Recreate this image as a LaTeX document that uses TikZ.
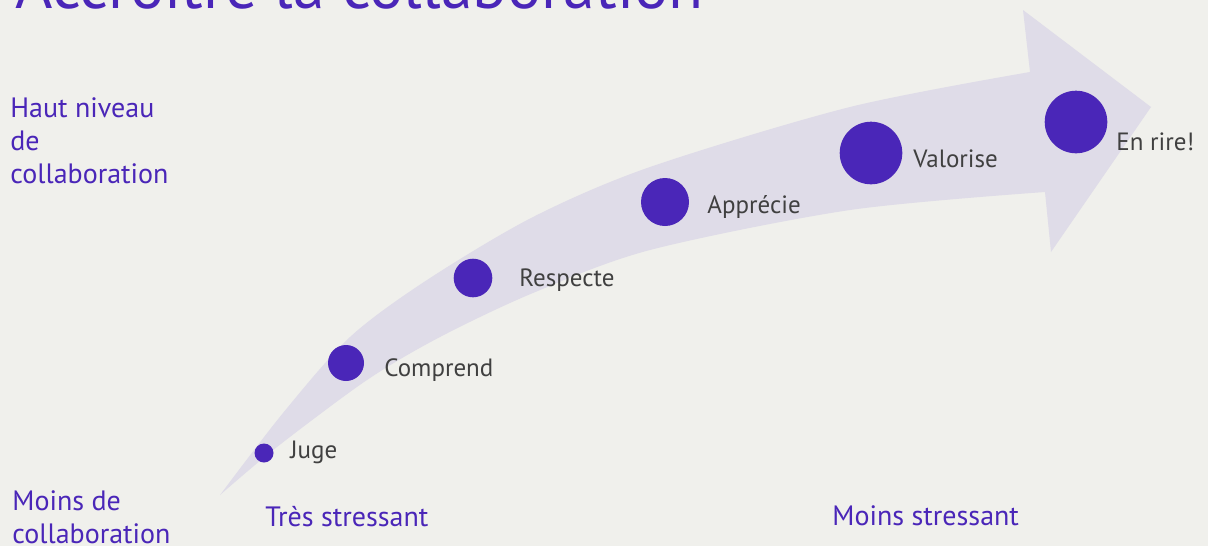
\documentclass[tikz,border=0pt]{standalone}
\usepackage{fontspec}
\setmainfont{PT Sans}
\definecolor{bg}{RGB}{240,240,236}
\definecolor{band}{RGB}{223,220,232}
\definecolor{violet}{RGB}{74,38,184}
\definecolor{txt}{RGB}{64,64,64}
\begin{document}
\begin{tikzpicture}[x=0.5pt,y=-0.5pt]

      \fill[bg] (0,0) rectangle (1208,546);
      \useasboundingbox (0,0) rectangle (1208,546);

      % la grande fleche
      \fill[band] plot[smooth] coordinates {(220,495) (283,413) (350,337) (427,280)
          (533,217) (650,167) (850,107) (1030,72)}
        -- (1023,10) -- (1151,107) -- (1051,252)
        -- plot[smooth] coordinates {(1045,192) (850,210) (650,250) (533,293)
          (440,337) (367,380) (277,447) (220,495)} -- cycle;

      \node[anchor=base west,inner sep=0pt,text=violet,font=\fontsize{32}{35}\selectfont] (titre) at (15,9) {Accroître la collaboration};

      \begin{scope}[every node/.style={circle,fill=violet,inner sep=0pt}]
        \node[minimum size=9.5pt]  (juge)     at (264,453) {};
        \node[minimum size=18pt]   (comprend) at (346,363) {};
        \node[minimum size=19.3pt] (respecte) at (473,278) {};
        \node[minimum size=24pt]   (apprecie) at (665,202) {};
        \node[minimum size=31.3pt] (valorise) at (871,153) {};
        \node[minimum size=31.3pt] (rire)     at (1076,122) {};
      \end{scope}

      \begin{scope}[every node/.style={anchor=base west,inner sep=0pt,text=txt,font=\fontsize{12.5}{15}\selectfont}]
        \node (t-juge)     at (290,458)  {Juge};
        \node (t-comprend) at (384,376)  {Comprend};
        \node (t-respecte) at (519,286)  {Respecte};
        \node (t-apprecie) at (707,213)  {Apprécie};
        \node (t-valorise) at (913,167)  {Valorise};
        \node (t-rire)     at (1116,150) {En rire!};
      \end{scope}

      \begin{scope}[every node/.style={anchor=base west,inner sep=0pt,text=violet,align=left,font=\fontsize{14}{16.5}\selectfont}]
        \node (haut)   at (10,183)  {Haut niveau\\de\\collaboration};
        \node (moins)  at (12,543)  {Moins de\\collaboration};
        \node (tres)   at (265,526) {Très stressant};
        \node (calme)  at (832,525) {Moins stressant};
      \end{scope}

    \end{tikzpicture}
\end{document}
